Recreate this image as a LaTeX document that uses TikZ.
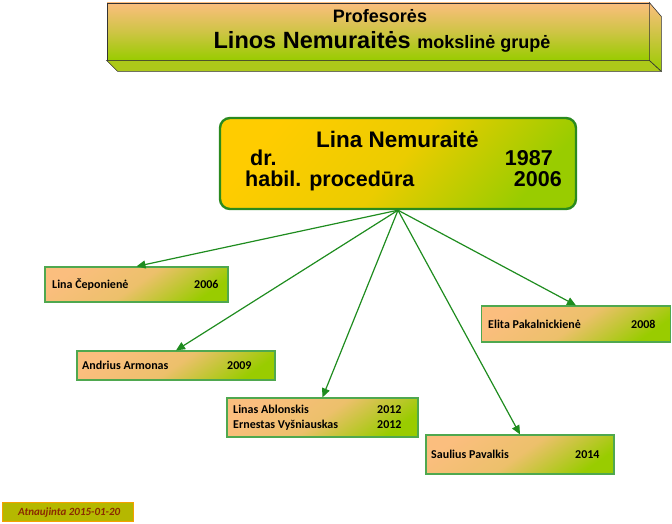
\documentclass[tikz,border=0pt]{standalone}
\usepackage{fontspec}
\setmainfont{Liberation Sans}
\newfontfamily\calfont{Carlito}
\usepackage{tikz}
\usetikzlibrary{                          % TikZ libraries
                shapes,                   % .
                arrows.meta,              % .
                calc}
\usepackage{xcolor}
\definecolor{boxorange}{HTML}{FBBE7E}
\definecolor{boxgreen}{HTML}{99CC00}
\definecolor{headyellow}{HTML}{FFCC00}
\definecolor{edgegreen}{HTML}{2A8A1E}
\definecolor{arrowgreen}{HTML}{1F8C1F}
\definecolor{rimgreen}{HTML}{4FA84F}
\definecolor{stampolive}{HTML}{B5B800}
\definecolor{stamporange}{HTML}{F5A000}
\definecolor{stampred}{HTML}{8B2A00}

\begin{document}
\begin{tikzpicture}[x=1pt,y=-1pt
                    ]
                % define styles
\tikzset{banner/.style={rectangle,
                       draw=black!80,
                       line width=0.8pt,
                       top color=boxorange,
                       bottom color=boxgreen,
                       middle color=boxorange!55!boxgreen,
                       minimum width=542pt,
                       minimum height=57pt,
                       inner sep=0,
                       },
         chief/.style={rectangle,
                       rounded corners=10pt,
                       draw=edgegreen,
                       line width=2.4pt,
                       top color=headyellow,
                       bottom color=boxgreen,
                       middle color=headyellow!80!boxgreen,
                       shading angle=50,
                       minimum width=356pt,
                       minimum height=91pt,
                       inner sep=0,
                       },
         member/.style={rectangle,
                       draw=rimgreen,
                       line width=1.2pt,
                       top color=boxorange,
                       bottom color=boxgreen,
                       middle color=boxorange!85!boxgreen,
                       shading angle=35,
                       inner sep=0,
                       },
         who/.style={anchor=base west,
                       inner sep=0,
                       font=\calfont\bfseries\fontsize{12}{13}\selectfont,
                       },
         big/.style={inner sep=0,
                       font=\bfseries\fontsize{21.5}{23}\selectfont,
                       },
         link/.style={draw=arrowgreen,
                       line width=1.2pt,
                       -{Triangle[length=9pt,width=8pt]},
                       }
}

\useasboundingbox (0,0) rectangle (672,524);

% banner with its 3d rim
\node[banner] (top) at (378,31.5) {};
\draw[black!80,line width=0.6pt,fill=boxgreen!80!boxorange]
    (top.south west) -- ++(11,11) -- ($(top.south east)+(12,11)$) -- (top.south east) -- cycle;
\draw[black!80,line width=0.6pt,top color=boxorange,bottom color=boxgreen]
    (top.north east) -- ++(12,14) -- ($(top.south east)+(12,11)$) -- (top.south east) -- cycle;
\node[anchor=base,inner sep=0,font=\bfseries\fontsize{18}{20}\selectfont]
    (prof) at (380,23) {Profesorės};
\node[anchor=base,inner sep=0]
    (grp) at (382,49) {\bfseries\fontsize{23.5}{26}\selectfont Linos Nemuraitės
                       \fontsize{18}{20}\selectfont mokslinė grupė};

% head node
\node[chief] (lina) at (398,163.5) {};
\node[big,anchor=base,font=\bfseries\fontsize{22.5}{24}\selectfont]
                            (lina-n) at (397.5,148) {Lina Nemuraitė};
\node[big,anchor=base west] (dr)     at (250,165.5) {dr.};
\node[big,anchor=base east] (dr-y)   at (553,165.5) {1987};
\node[big,anchor=base west] (hab)    at (245,186.5) {habil. procedūra};
\node[big,anchor=base east] (hab-y)  at (562,186.5) {2006};

% member nodes
\node[member,minimum width=183pt,minimum height=35pt] (cep) at (136.5,284.5) {};
\node[member,minimum width=198pt,minimum height=29pt] (arm) at (176,365.5)   {};
\node[member,minimum width=191pt,minimum height=39pt] (abl) at (322.5,417.5) {};
\node[member,minimum width=188pt,minimum height=39pt] (pav) at (520,454.5)   {};
\node[member,minimum width=189pt,minimum height=36pt] (pak) at (576,324)     {};

% labels
\node[who] (cep-n) at (52,288)  {Lina Čeponienė};
\node[who] (cep-y) at (194,288) {2006};
\node[who] (arm-n) at (82,369)  {Andrius Armonas};
\node[who] (arm-y) at (227,369) {2009};
\node[who] (abl-n) at (233,413) {Linas Ablonskis};
\node[who] (abl-y) at (377,413) {2012};
\node[who] (vys-n) at (233,428) {Ernestas Vyšniauskas};
\node[who] (vys-y) at (377,428) {2012};
\node[who] (pav-n) at (431,458) {Saulius Pavalkis};
\node[who] (pav-y) at (575,458) {2014};
\node[who] (pak-n) at (488,328) {Elita Pakalnickienė};
\node[who] (pak-y) at (631,328) {2008};

% arrows
\foreach \to in {cep, arm, abl, pav, pak}
    \draw[link] (lina.south) -- (\to.north);

% stamp
\node[rectangle,draw=stamporange,line width=1pt,fill=stampolive,
      minimum width=131pt,minimum height=19pt,inner sep=0] (stamp) at (67.5,511.5) {};
\node[anchor=base west,inner sep=0,text=stampred,
      font=\calfont\bfseries\itshape\fontsize{11}{12}\selectfont]
    (stamp-t) at (18,515) {Atnaujinta 2015-01-20};

\end{tikzpicture}
\end{document}
